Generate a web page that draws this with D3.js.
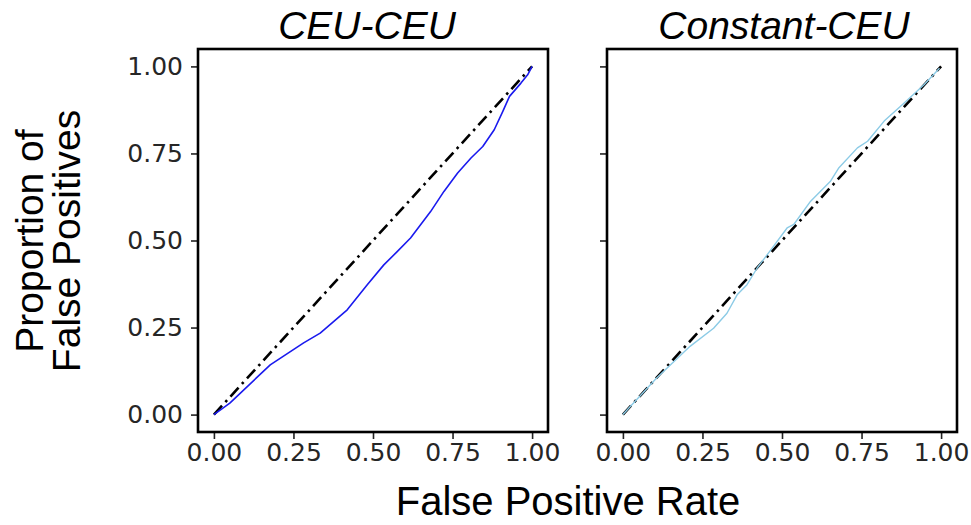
<!DOCTYPE html>
<html>
<head>
<meta charset="utf-8">
<script src="https://cdn.jsdelivr.net/npm/d3@7"></script>
<style>
  html, body { margin: 0; padding: 0; background: #fff; }
  svg { display: block; }
</style>
</head>
<body>
<svg id="chart" width="971" height="525"></svg>
<script>
// Panel titles
const panelTitles = ["CEU-CEU", "Constant-CEU"];

// Shared tick values and labels
const tickValues = [0, 0.25, 0.5, 0.75, 1];
const tickLabels = ["0.00", "0.25", "0.50", "0.75", "1.00"];

// CEU-CEU: false positive rate vs proportion of false positives
const ceuX = [0, 0.05, 0.177, 0.282, 0.334, 0.376, 0.419, 0.482, 0.534, 0.576, 0.618, 0.681, 0.723, 0.766, 0.808, 0.845, 0.881, 0.908, 0.929, 0.965, 0.986, 1];
const ceuY = [0, 0.033, 0.143, 0.206, 0.234, 0.267, 0.301, 0.373, 0.430, 0.468, 0.507, 0.583, 0.641, 0.694, 0.737, 0.770, 0.818, 0.871, 0.914, 0.952, 0.976, 1];

// Constant-CEU
const constX = [0, 0.106, 0.211, 0.285, 0.327, 0.359, 0.390, 0.422, 0.469, 0.516, 0.537, 0.590, 0.653, 0.679, 0.737, 0.769, 0.821, 0.884, 0.947, 0.995];
const constY = [0, 0.105, 0.196, 0.248, 0.291, 0.344, 0.373, 0.421, 0.478, 0.536, 0.546, 0.613, 0.671, 0.709, 0.766, 0.785, 0.843, 0.895, 0.948, 0.995];

// Reference diagonal
const diagonal = [0, 1];

const seriesColors = ["#1a1aee", "#8ccbe6"];

const svg = d3.select("#chart");
const tickFont = "'DejaVu Sans', sans-serif";
const labelFont = "'Liberation Sans', Arial, sans-serif";

const panels = [
  { left: 198, title: panelTitles[0], titleShift: -6, xs: ceuX, ys: ceuY, color: seriesColors[0], width: 1.6, showY: true },
  { left: 607, title: panelTitles[1], titleShift: 2, xs: constX, ys: constY, color: seriesColors[1], width: 1.4, showY: false }
];
const panelW = 350, panelTop = 49, panelH = 383;

panels.forEach(p => {
  const x = d3.scaleLinear().domain([-0.05, 1.05]).range([p.left, p.left + panelW]);
  const y = d3.scaleLinear().domain([-0.05, 1.05]).range([panelTop + panelH, panelTop]);
  const g = svg.append("g");

  // diagonal reference line
  const line = d3.line().x(d => x(d[0])).y(d => y(d[1]));
  g.append("path")
    .datum(diagonal.map(v => [v, v]))
    .attr("d", line)
    .attr("fill", "none")
    .attr("stroke", "#000")
    .attr("stroke-width", 2.6)
    .attr("stroke-dasharray", "12,5,2.5,5");

  // observed curve
  g.append("path")
    .datum(p.xs.map((v, i) => [v, p.ys[i]]))
    .attr("d", line)
    .attr("fill", "none")
    .attr("stroke", p.color)
    .attr("stroke-width", p.width)
    .attr("stroke-linejoin", "round");

  // x axis
  const xAxis = g.append("g")
    .attr("transform", `translate(0,${panelTop + panelH})`)
    .call(d3.axisBottom(x).tickValues(tickValues).tickFormat((d, i) => tickLabels[i]).tickSize(7).tickPadding(4));
  // y axis
  const yAxis = g.append("g")
    .attr("transform", `translate(${p.left},0)`)
    .call(d3.axisLeft(y).tickValues(tickValues).tickFormat((d, i) => p.showY ? tickLabels[i] : "").tickSize(7).tickPadding(8));

  [xAxis, yAxis].forEach(a => {
    a.select(".domain").remove();
    a.selectAll(".tick line").attr("stroke", "#222").attr("stroke-width", 1.6);
    a.selectAll(".tick text")
      .attr("fill", "#262626")
      .style("font-family", tickFont)
      .style("font-size", "25px");
  });

  // frame
  g.append("rect")
    .attr("x", p.left).attr("y", panelTop)
    .attr("width", panelW).attr("height", panelH)
    .attr("fill", "none")
    .attr("stroke", "#000")
    .attr("stroke-width", 2.6);

  // title
  g.append("text")
    .attr("x", p.left + panelW / 2 + p.titleShift)
    .attr("y", panelTop - 10)
    .attr("text-anchor", "middle")
    .style("font-family", labelFont)
    .style("font-style", "italic")
    .style("font-size", "39px")
    .attr("fill", "#000")
    .text(p.title);
});

// x axis label
svg.append("text")
  .attr("x", 568).attr("y", 515)
  .attr("text-anchor", "middle")
  .style("font-family", labelFont)
  .style("font-size", "40px")
  .attr("fill", "#000")
  .text("False Positive Rate");

// y axis label (two lines)
const yl = svg.append("text")
  .attr("transform", "translate(0,241) rotate(-90)")
  .attr("text-anchor", "middle")
  .style("font-family", labelFont)
  .style("font-size", "39px")
  .attr("fill", "#000");
yl.append("tspan").attr("x", 0).attr("y", 43).text("Proportion of");
yl.append("tspan").attr("x", 0).attr("y", 80).text("False Positives");
</script>
</body>
</html>
